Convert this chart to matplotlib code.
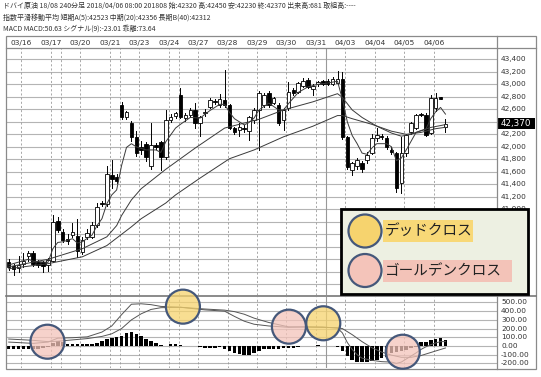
import matplotlib
matplotlib.use('Agg')
import matplotlib.pyplot as plt
from matplotlib.patches import Rectangle, Circle
import matplotlib.transforms as mtrans
import numpy as np

plt.rcParams['font.family'] = ['Noto Sans CJK JP', 'DejaVu Sans']

# ---------------- data ----------------
opens = [40160,40100,40060,40120,40250,40300,40160,40150,40110,40170,
         40810,40640,40520,40590,40570,40320,40550,40560,40750,41100,
         41090,41550,41520,42670,42470,42380,42160,41990,42050,41690,
         42030,42080,41840,42430,42500,42830,42460,42510,42590,42380,
         42540,42640,42730,42670,42750,42670,42300,42270,42300,42250,
         42430,42590,42670,42860,42700,42670,42430,42620,42910,42880,
         42970,43070,42930,43000,43050,43050,43010,43020,43090,42160,
         41630,41690,41740,41790,41900,42140,42170,42140,41950,41900,
         41420,41900,42240,42300,42530,42510,42220,42620,42790,42320]
closes = [40070,40040,40110,40170,40300,40120,40110,40090,40190,40800,
          40670,40510,40500,40640,40330,40510,40620,40750,41040,41080,
          41570,41490,41460,42470,42560,42160,41900,41950,41830,42030,
          41990,41840,42430,42480,42540,42480,42510,42590,42380,42470,
          42560,42750,42710,42760,42670,42300,42240,42320,42280,42480,
          42590,42860,42830,42670,42780,42380,42590,42880,42860,43020,
          43060,42960,42980,43040,43010,43010,43080,43090,42160,41680,
          41740,41790,41640,41870,42140,42190,42150,41990,41920,41340,
          41900,42190,42380,42510,42510,42190,42780,42780,42770,42370]
highs = [40200,40130,40260,40300,40330,40340,40190,40170,40220,40910,
         40880,40680,40600,40780,40850,40560,40680,40800,41100,41130,
         41700,41790,41560,42710,42580,42420,42250,42100,42080,42380,
         42060,42100,42590,42520,42560,42940,42540,42620,42700,42500,
         42600,42780,42760,42850,43230,42690,42320,42380,42350,42500,
         42620,42900,42860,42900,42800,42700,42620,43040,42940,43040,
         43100,43100,43000,43060,43070,43080,43110,43220,43200,42180,
         41760,41820,41770,41920,42200,42300,42200,42170,41990,41920,
         42160,42200,42400,42530,42540,42540,42830,42860,42790,42450]
lows = [40030,39950,40000,40080,40180,40100,40080,40000,40020,40150,
        40640,40480,40440,40560,40240,40280,40520,40540,40720,41050,
        41060,41340,41420,42440,42440,42100,41850,41880,41780,41650,
        41960,41630,41800,42400,42460,42460,42420,42480,42300,42180,
        42500,42620,42680,42640,42640,42280,42200,42180,42230,42110,
        42380,41950,42640,42640,42680,42350,42270,42590,42830,42860,
        42950,42940,42830,42980,42990,42990,42990,43000,42130,41640,
        41550,41640,41600,41740,41880,42100,42120,41960,41880,41280,
        41260,41850,42200,42280,42490,42170,42200,42580,42770,42230]

ema5_idx = [0,4,5,8,9,10,11,13,14,15,17,18,19,20,21,22,23,24,25,26,28,30,31,32,34,35,37,39,41,43,44,45,46,48,49,50,51,53,55,56,57,59,61,63,65,67,68,69,70,71,72,73,74,75,77,78,79,80,81,82,83,85,86,87,88,89]
ema5_val = [40110,40200,40170,40150,40370,40470,40480,40530,40460,40480,40590,40740,40850,41090,41230,41310,41700,41990,42050,42000,41950,41950,41910,42080,42300,42360,42470,42460,42580,42680,42680,42550,42450,42350,42390,42460,42590,42700,42590,42590,42690,42870,42960,43000,43020,43050,42760,42400,42180,42050,41900,41880,41980,42050,42050,42000,41780,41820,41950,42090,42230,42280,42450,42560,42630,42523]
ema20_idx = [0,8,15,20,22,23,25,27,32,38,44,51,56,62,67,68,70,72,75,78,80,82,84,86,88,89]
ema20_val = [40080,40200,40370,40560,40740,40900,41150,41330,41640,41980,42300,42440,42590,42720,42850,42790,42590,42470,42330,42220,42170,42200,42260,42310,42340,42356]
ema40_idx = [0,8,15,20,25,27,32,34,39,45,50,56,62,67,68,70,74,78,81,84,87,89]
ema40_val = [40050,40130,40240,40420,40720,40850,41100,41230,41500,41810,41950,42160,42330,42500,42500,42450,42360,42250,42200,42230,42290,42312]

macd_idx = [0,5,8,10,13,16,19,21,23,25,27,29,31,35,40,44,46,48,50,53,57,60,64,67,68,69,70,71,72,74,76,78,79,80,81,82,83,84,85,86,87,88,89]
macd_val = [45,30,45,90,95,105,160,230,360,480,485,475,455,445,415,400,340,285,250,230,215,220,218,205,150,40,-40,-100,-140,-165,-180,-185,-200,-185,-150,-115,-80,-40,-10,15,35,50,50.63]
sig_idx = [0,5,8,10,13,16,19,21,23,25,27,29,31,35,40,44,46,48,50,53,57,60,64,67,68,70,72,74,76,78,80,82,84,86,88,89]
sig_val = [80,65,50,55,70,85,110,140,200,300,370,420,440,445,425,412,395,365,320,270,220,218,214,210,200,130,50,-20,-70,-105,-130,-130,-110,-75,-40,-23.01]
hist = [-35,-38,-35,-30,-30,-35,-30,-20,-10,
        40,55,45,25,20,20,20,20,25,
        40,55,75,90,100,120,155,165,140,
        110,85,60,35,15,5,20,20,15,
        5,0,-5,-10,-20,-20,-20,-15,-30,
        -55,-75,-90,-100,-100,-85,-60,-40,-30,
        -30,-35,-25,-25,-20,-10,0,5,5,
        8,5,0,-5,-10,-60,-115,-160,-180,
        -188,-180,-172,-160,-142,-123,-85,-65,-57,
        -46,-27,-10,42,50,69,80,88,73.64]

day_starts = [3,9,11,15,21,23,27,33,35,39,45,51,57,63,65,69,75,81,87]
day_labels = ['03/16','03/17','','03/20','03/21','','03/23','03/24','','03/27',
              '03/28','03/29','03/30','03/31','','04/03','04/04','04/05','04/06']
month_start = 65

price_ticks = [41000,41200,41400,41600,41800,42000,42200,42600,42800,43000,43200,43400]
macd_ticks = [500,400,300,200,100,0,-100,-200]
last_price = 42370

# cross markers (bar index, macd value, kind)
crosses = [(7.9, 49, 'g'), (35.5, 452, 'd'), (57.1, 222, 'g'), (64.1, 261, 'd'), (80.3, -66, 'g')]

header = ["ドバイ原油 18/08 240分足 2018/04/06 08:00 201808 始:42320 高:42450 安:42230 終:42370 出来高:681 取組高:----",
          "指数平滑移動平均 短期A(5):42523 中期(20):42356 長期B(40):42312",
          "MACD MACD:50.63 シグナル(9):-23.01 乖離:73.64"]

# ---------------- figure ----------------
W, H = 541, 377
fig = plt.figure(figsize=(W/100, H/100), dpi=100)
fig.patch.set_facecolor('white')

def rect(l, t, r, b):
    return [l/W, 1-b/H, (r-l)/W, (b-t)/H]

XL = (-0.55, 99.5)
axp = fig.add_axes(rect(6, 48, 497, 295))
axm = fig.add_axes(rect(6, 297, 497, 368))
for a in (axp, axm):
    a.set_xlim(*XL)
    a.axis('off')
axp.set_ylim(39629, 43581)
axm.set_ylim(-253, 563)

GRID = '#b4b4b4'
for p in range(39800, 43600, 200):
    axp.axhline(p, color=GRID, lw=0.8, zorder=0)
for m in range(-200, 600, 100):
    axm.axhline(m, color=GRID, lw=0.8, zorder=0)
for s in day_starts:
    for a in (axp, axm):
        if s == month_start:
            a.axvline(s-0.4, color='#999999', lw=0.8, zorder=0)
        else:
            a.axvline(s-0.4, color='#9a9a9a', lw=0.6, ls=(0, (2.5, 2.5)), zorder=0)

# candles
n = len(opens)
idx = np.arange(n)
for i in range(n):
    o, c, h, l = opens[i], closes[i], highs[i], lows[i]
    axp.plot([i, i], [l, h], color='black', lw=0.7, zorder=2)
    lo, hi = min(o, c), max(o, c)
    ht = max(hi-lo, 14)
    up = c >= o
    axp.add_patch(Rectangle((i-0.36, lo), 0.72, ht, facecolor='white' if up else 'black',
                            edgecolor='black', lw=0.6, zorder=3))

for ix, v in ((ema5_idx, ema5_val), (ema20_idx, ema20_val), (ema40_idx, ema40_val)):
    axp.plot(ix, v, color='#3a3a3a', lw=0.7, zorder=4)

axm.bar(idx, hist, width=0.72, color='black', zorder=2)
axm.plot(macd_idx, macd_val, color='#555555', lw=0.7, zorder=3)
axm.plot(sig_idx, sig_val, color='#555555', lw=0.7, zorder=3)

bp = mtrans.blended_transform_factory(fig.transFigure, axp.transData)
for p in price_ticks:
    axp.text(501/W, p, f'{p:,}', transform=bp, fontsize=5.3, color='#333333',
             va='center', ha='left', family=['DejaVu Sans'])
axp.add_patch(Rectangle((498/W, last_price-85), 37/W, 170, transform=bp,
                        facecolor='black', edgecolor='none', clip_on=False, zorder=5))
axp.text(501/W, last_price, f'{last_price:,}', transform=bp, fontsize=6.3, color='white',
         va='center', ha='left', zorder=6, family=['DejaVu Sans'])
bm = mtrans.blended_transform_factory(fig.transFigure, axm.transData)
for m in macd_ticks:
    axm.text(501/W, m, f'{m:.2f}', transform=bm, fontsize=5.3, color='#333333',
             va='center', ha='left', family=['DejaVu Sans'])

bd = mtrans.blended_transform_factory(axp.transData, fig.transFigure)
for s, lab in zip(day_starts, day_labels):
    if lab:
        axp.text(s-0.4, 1-42.5/H, lab, transform=bd, fontsize=5.3, color='#333333',
                 ha='center', va='center', family=['DejaVu Sans'], clip_on=False)

for k, line in enumerate(header):
    fig.text(3/W, 1-(5.5+11.7*k)/H, line, fontsize=5.0, color='#333333', va='center', ha='left')

# ---------------- overlay ----------------
ov = fig.add_axes([0, 0, 1, 1])
ov.set_xlim(0, W)
ov.set_ylim(H, 0)
ov.axis('off')
FR = '#8a8a8a'
ov.add_patch(Rectangle((6, 36), 530, 333, fill=False, edgecolor=FR, lw=0.9))
ov.plot([6, 536], [48, 48], color=FR, lw=0.9)
ov.plot([497, 497], [36, 369], color=FR, lw=0.9)
ov.plot([6, 536], [296, 296], color='#777777', lw=1.2)

YEL = '#f6d36e'
PNK = '#f4c4ba'
EDGE = '#45587a'
fig.canvas.draw()
for cx, cy, kind in crosses:
    dx, dy = axm.transData.transform((cx, cy))
    px, py = dx, H - dy
    ov.add_patch(Circle((px, py), 17, facecolor=YEL if kind == 'd' else PNK, alpha=0.75,
                        edgecolor='none', zorder=5))
    ov.add_patch(Circle((px, py), 17, fill=False, edgecolor=EDGE, lw=1.6, zorder=6))

ov.add_patch(Rectangle((341, 209), 187, 85, facecolor='#edf0e2', edgecolor='black', lw=2, zorder=7))
ov.add_patch(Circle((365, 231), 16.5, facecolor=YEL, edgecolor=EDGE, lw=1.6, zorder=8))
ov.add_patch(Circle((365, 270.5), 16.5, facecolor=PNK, edgecolor=EDGE, lw=1.6, zorder=8))
ov.add_patch(Rectangle((383, 220), 90, 22, facecolor='#f8d877', edgecolor='none', zorder=8))
ov.add_patch(Rectangle((383, 260), 129, 22, facecolor='#f3c3b8', edgecolor='none', zorder=8))
ov.text(385, 231, 'デッドクロス', fontsize=10.5, color='#222222', va='center', ha='left', zorder=9)
ov.text(385, 271, 'ゴールデンクロス', fontsize=10.5, color='#222222', va='center', ha='left', zorder=9)

fig.savefig('out.png', dpi=100)
